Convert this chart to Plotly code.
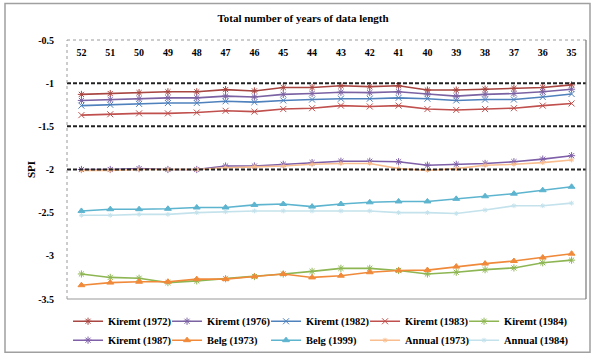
import plotly.graph_objects as go

# Categories: total number of years of data length
years = ["52", "51", "50", "49", "48", "47", "46", "45", "44", "43",
         "42", "41", "40", "39", "38", "37", "36", "35"]

kiremt_1972 = [-1.13, -1.12, -1.11, -1.10, -1.10, -1.075, -1.09, -1.05, -1.05, -1.03,
               -1.04, -1.03, -1.08, -1.08, -1.07, -1.06, -1.05, -1.02]
kiremt_1976 = [-1.20, -1.19, -1.18, -1.17, -1.17, -1.15, -1.16, -1.13, -1.12, -1.105,
               -1.11, -1.10, -1.125, -1.15, -1.13, -1.12, -1.10, -1.07]
kiremt_1982 = [-1.26, -1.25, -1.24, -1.23, -1.23, -1.21, -1.22, -1.20, -1.19, -1.18,
               -1.18, -1.17, -1.18, -1.20, -1.19, -1.19, -1.16, -1.125]
kiremt_1983 = [-1.37, -1.36, -1.35, -1.35, -1.34, -1.32, -1.33, -1.30, -1.29, -1.26,
               -1.27, -1.26, -1.30, -1.31, -1.30, -1.29, -1.26, -1.235]
kiremt_1984 = [-3.21, -3.25, -3.26, -3.31, -3.29, -3.265, -3.24, -3.21, -3.18, -3.145,
               -3.145, -3.17, -3.21, -3.19, -3.16, -3.14, -3.08, -3.05]
kiremt_1987 = [-2.00, -2.00, -1.99, -2.00, -2.00, -1.96, -1.96, -1.94, -1.92, -1.905,
               -1.905, -1.91, -1.95, -1.94, -1.93, -1.91, -1.88, -1.84]
belg_1973 = [-3.34, -3.31, -3.30, -3.30, -3.27, -3.27, -3.24, -3.21, -3.25, -3.23,
             -3.19, -3.17, -3.165, -3.125, -3.09, -3.06, -3.02, -2.975]
belg_1999 = [-2.48, -2.46, -2.46, -2.455, -2.44, -2.44, -2.41, -2.40, -2.43, -2.40,
             -2.38, -2.37, -2.37, -2.34, -2.31, -2.28, -2.24, -2.20]
annual_1973 = [-2.01, -2.01, -2.00, -2.00, -2.00, -1.98, -1.97, -1.96, -1.94, -1.93,
               -1.93, -1.99, -2.01, -1.99, -1.95, -1.94, -1.92, -1.89]
annual_1984 = [-2.53, -2.53, -2.52, -2.52, -2.50, -2.49, -2.48, -2.48, -2.48, -2.48,
               -2.48, -2.50, -2.50, -2.51, -2.47, -2.42, -2.42, -2.39]

y_ticks = [-3.5, -3.0, -2.5, -2.0, -1.5, -1.0, -0.5]
y_tick_text = ["-3.5", "-3", "-2.5", "-2", "-1.5", "-1", "-0.5"]
thresholds = [-1.0, -1.5, -2.0]

FONT = "Liberation Serif"

# name, values, colour, marker symbol, marker size, legend row, legend entry width
series = [
    ("Kiremt (1972)", kiremt_1972, "#A84642", "asterisk-open", 6, "legend", 54),
    ("Kiremt (1976)", kiremt_1976, "#7B62A3", "asterisk-open", 6, "legend", 54),
    ("Kiremt (1982)", kiremt_1982, "#4F81BD", "x-thin-open", 6, "legend", 54),
    ("Kiremt (1983)", kiremt_1983, "#C0504D", "x-thin-open", 6, "legend", 54),
    ("Kiremt (1984)", kiremt_1984, "#8DB652", "asterisk-open", 6, "legend", 68),
    ("Kiremt (1987)", kiremt_1987, "#7E5FA8", "asterisk-open", 6, "legend2", 54),
    ("Belg (1973)", belg_1973, "#F08A3A", "triangle-up", 6, "legend2", 54),
    ("Belg (1999)", belg_1999, "#5DB4CF", "triangle-up", 6, "legend2", 54),
    ("Annual (1973)", annual_1973, "#F9BE90", "asterisk-open", 4, "legend2", 54),
    ("Annual (1984)", annual_1984, "#C3E2EC", "asterisk-open", 4, "legend2", 68),
]

fig = go.Figure()
for name, vals, color, sym, size, leg, lw in series:
    fig.add_trace(go.Scatter(
        x=years, y=vals, name=name, mode="lines+markers",
        line=dict(color=color, width=1.6),
        marker=dict(symbol=sym, size=size, color=color,
                    line=dict(color=color, width=1)),
        legend=leg, legendwidth=lw,
    ))

# Dashed reference levels
for t in thresholds:
    fig.add_shape(type="line", xref="paper", x0=0, x1=1, yref="y", y0=t, y1=t,
                  line=dict(color="#222222", width=2, dash="4px,2px"))

# Plot-area frame
frame = "#9a9a9a"
fig.add_shape(type="line", xref="paper", yref="paper", x0=0, x1=1, y0=1, y1=1,
              line=dict(color=frame, width=1, dash="dot"))
fig.add_shape(type="line", xref="paper", yref="paper", x0=0, x1=0, y0=0, y1=1,
              line=dict(color=frame, width=1, dash="dot"))
fig.add_shape(type="line", xref="paper", yref="paper", x0=0, x1=1, y0=0, y1=0,
              line=dict(color=frame, width=1.2))
fig.add_shape(type="line", xref="paper", yref="paper", x0=1, x1=1, y0=0, y1=1,
              line=dict(color="#777777", width=1.2))

# Outer chart border
pw, ph = 519, 263
fig.add_shape(type="rect", xref="paper", yref="paper",
              x0=(5 - 67) / pw, x1=(590 - 67) / pw,
              y0=(303 - 357) / ph, y1=(303 - 3) / ph,
              line=dict(color="#a0a0a0", width=1.5))

legend_font = dict(family=FONT, size=10.5, color="#000000", weight="bold")

fig.update_layout(
    width=593, height=362,
    margin=dict(l=67, r=7, t=40, b=59),
    paper_bgcolor="white", plot_bgcolor="white",
    font=dict(family=FONT, color="#000000"),
    title=dict(text="<b>Total number of years of data length</b>",
               font=dict(family=FONT, size=11, color="#000000"),
               x=0.511, xanchor="center", xref="container",
               y=0.95, yanchor="middle", yref="container"),
    xaxis=dict(type="category", side="top", range=[-0.5, 17.5],
               anchor="free", position=0.93,
               showgrid=False, zeroline=False, showline=False,
               ticks="", ticklabelstandoff=0,
               tickfont=dict(family=FONT, size=10, color="#000000", weight="bold")),
    yaxis=dict(range=[-3.5, -0.5], tickvals=y_ticks, ticktext=y_tick_text,
               showgrid=False, zeroline=False, showline=False,
               ticks="", ticklabelstandoff=12,
               tickfont=dict(family=FONT, size=10, color="#000000", weight="bold"),
               title=dict(text="<b>SPI</b>", standoff=0,
                          font=dict(family=FONT, size=11, color="#000000"))),
    legend=dict(orientation="h", x=0.002, xanchor="left", y=-0.03, yanchor="top",
                entrywidthmode="pixels", font=legend_font,
                bgcolor="rgba(0,0,0,0)"),
    legend2=dict(orientation="h", x=0.002, xanchor="left", y=-0.103, yanchor="top",
                 entrywidthmode="pixels", font=legend_font,
                 bgcolor="rgba(0,0,0,0)"),
    showlegend=True,
)

fig.write_html("out.html")
